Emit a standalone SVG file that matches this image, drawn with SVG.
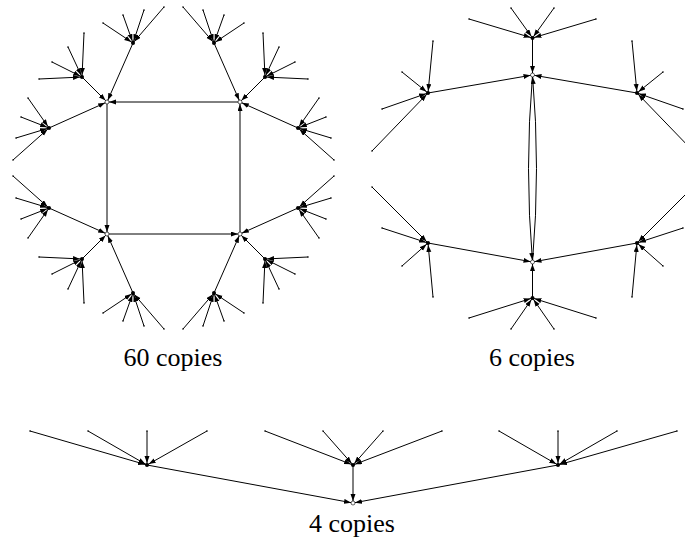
<svg xmlns="http://www.w3.org/2000/svg" width="685" height="554" viewBox="0 0 685 554">
<style>
.e{stroke:#000;stroke-width:1;fill:none;marker-end:url(#a)}
.lf{fill:#000}
.hb{fill:#000}
.ct{fill:#fff;stroke:#000;stroke-width:0.6}
</style>
<defs>
<marker id="a" markerWidth="10" markerHeight="6" refX="9" refY="2.5" orient="auto" markerUnits="userSpaceOnUse">
<path d="M0,0 L7,2.5 L0,5 z" fill="#000"/>
</marker>
</defs>
<rect width="685" height="554" fill="#fff"/>
<g id="connectors">
<line class="e" x1="240" y1="102" x2="107" y2="102"/>
<line class="e" x1="107" y1="102" x2="107" y2="234"/>
<line class="e" x1="107" y1="234" x2="240" y2="234"/>
<line class="e" x1="240" y1="234" x2="240" y2="102"/>
<line class="e" x1="133" y1="43" x2="107" y2="102"/>
<line class="e" x1="82" y1="77" x2="107" y2="102"/>
<line class="e" x1="49" y1="128" x2="107" y2="102"/>
<line class="e" x1="214" y1="43" x2="240" y2="102"/>
<line class="e" x1="265" y1="77" x2="240" y2="102"/>
<line class="e" x1="298" y1="128" x2="240" y2="102"/>
<line class="e" x1="133" y1="293" x2="107" y2="234"/>
<line class="e" x1="82" y1="259" x2="107" y2="234"/>
<line class="e" x1="49" y1="208" x2="107" y2="234"/>
<line class="e" x1="214" y1="293" x2="240" y2="234"/>
<line class="e" x1="265" y1="259" x2="240" y2="234"/>
<line class="e" x1="298" y1="208" x2="240" y2="234"/>
<line class="e" x1="103" y1="23" x2="133" y2="43"/>
<line class="e" x1="123" y1="15" x2="133" y2="43"/>
<line class="e" x1="144" y1="10" x2="133" y2="43"/>
<line class="e" x1="164" y1="7" x2="133" y2="43"/>
<line class="e" x1="84" y1="33" x2="82" y2="77"/>
<line class="e" x1="68" y1="47" x2="82" y2="77"/>
<line class="e" x1="52" y1="62" x2="82" y2="77"/>
<line class="e" x1="39" y1="79" x2="82" y2="77"/>
<line class="e" x1="28" y1="98" x2="49" y2="128"/>
<line class="e" x1="21" y1="117" x2="49" y2="128"/>
<line class="e" x1="16" y1="138" x2="49" y2="128"/>
<line class="e" x1="13" y1="160" x2="49" y2="128"/>
<line class="e" x1="244" y1="23" x2="214" y2="43"/>
<line class="e" x1="224" y1="15" x2="214" y2="43"/>
<line class="e" x1="203" y1="10" x2="214" y2="43"/>
<line class="e" x1="183" y1="7" x2="214" y2="43"/>
<line class="e" x1="263" y1="33" x2="265" y2="77"/>
<line class="e" x1="279" y1="47" x2="265" y2="77"/>
<line class="e" x1="295" y1="62" x2="265" y2="77"/>
<line class="e" x1="308" y1="79" x2="265" y2="77"/>
<line class="e" x1="319" y1="98" x2="298" y2="128"/>
<line class="e" x1="326" y1="117" x2="298" y2="128"/>
<line class="e" x1="331" y1="138" x2="298" y2="128"/>
<line class="e" x1="334" y1="160" x2="298" y2="128"/>
<line class="e" x1="103" y1="313" x2="133" y2="293"/>
<line class="e" x1="123" y1="321" x2="133" y2="293"/>
<line class="e" x1="144" y1="326" x2="133" y2="293"/>
<line class="e" x1="164" y1="329" x2="133" y2="293"/>
<line class="e" x1="84" y1="303" x2="82" y2="259"/>
<line class="e" x1="68" y1="289" x2="82" y2="259"/>
<line class="e" x1="52" y1="274" x2="82" y2="259"/>
<line class="e" x1="39" y1="257" x2="82" y2="259"/>
<line class="e" x1="28" y1="238" x2="49" y2="208"/>
<line class="e" x1="21" y1="219" x2="49" y2="208"/>
<line class="e" x1="16" y1="198" x2="49" y2="208"/>
<line class="e" x1="13" y1="176" x2="49" y2="208"/>
<line class="e" x1="244" y1="313" x2="214" y2="293"/>
<line class="e" x1="224" y1="321" x2="214" y2="293"/>
<line class="e" x1="203" y1="326" x2="214" y2="293"/>
<line class="e" x1="183" y1="329" x2="214" y2="293"/>
<line class="e" x1="263" y1="303" x2="265" y2="259"/>
<line class="e" x1="279" y1="289" x2="265" y2="259"/>
<line class="e" x1="295" y1="274" x2="265" y2="259"/>
<line class="e" x1="308" y1="257" x2="265" y2="259"/>
<line class="e" x1="319" y1="238" x2="298" y2="208"/>
<line class="e" x1="326" y1="219" x2="298" y2="208"/>
<line class="e" x1="331" y1="198" x2="298" y2="208"/>
<line class="e" x1="334" y1="176" x2="298" y2="208"/>
<path class="e" d="M532.5,75 Q524.5,168.5 532.5,262"/>
<path class="e" d="M532.5,262 Q540.5,168.5 532.5,75"/>
<line class="e" x1="532.5" y1="38" x2="532.5" y2="75"/>
<line class="e" x1="532.5" y1="298" x2="532.5" y2="262"/>
<line class="e" x1="428" y1="93" x2="532.5" y2="75"/>
<line class="e" x1="637" y1="93" x2="532.5" y2="75"/>
<line class="e" x1="428" y1="243" x2="532.5" y2="262"/>
<line class="e" x1="637" y1="243" x2="532.5" y2="262"/>
<line class="e" x1="511" y1="8" x2="532.5" y2="38"/>
<line class="e" x1="469" y1="19" x2="532.5" y2="38"/>
<line class="e" x1="554" y1="8" x2="532.5" y2="38"/>
<line class="e" x1="596" y1="19" x2="532.5" y2="38"/>
<line class="e" x1="511" y1="329" x2="532.5" y2="298"/>
<line class="e" x1="469" y1="318" x2="532.5" y2="298"/>
<line class="e" x1="554" y1="329" x2="532.5" y2="298"/>
<line class="e" x1="596" y1="318" x2="532.5" y2="298"/>
<line class="e" x1="433" y1="41" x2="428" y2="93"/>
<line class="e" x1="402" y1="72" x2="428" y2="93"/>
<line class="e" x1="382" y1="109" x2="428" y2="93"/>
<line class="e" x1="372" y1="151" x2="428" y2="93"/>
<line class="e" x1="632" y1="41" x2="637" y2="93"/>
<line class="e" x1="663" y1="72" x2="637" y2="93"/>
<line class="e" x1="683" y1="109" x2="637" y2="93"/>
<line class="e" x1="693" y1="151" x2="637" y2="93"/>
<line class="e" x1="433" y1="297" x2="428" y2="243"/>
<line class="e" x1="402" y1="266" x2="428" y2="243"/>
<line class="e" x1="382" y1="228" x2="428" y2="243"/>
<line class="e" x1="372" y1="187" x2="428" y2="243"/>
<line class="e" x1="632" y1="297" x2="637" y2="243"/>
<line class="e" x1="663" y1="266" x2="637" y2="243"/>
<line class="e" x1="683" y1="228" x2="637" y2="243"/>
<line class="e" x1="693" y1="187" x2="637" y2="243"/>
<line class="e" x1="147" y1="465" x2="353" y2="503"/>
<line class="e" x1="353" y1="465" x2="353" y2="503"/>
<line class="e" x1="558" y1="465" x2="353" y2="503"/>
<line class="e" x1="30" y1="431" x2="147" y2="465"/>
<line class="e" x1="88" y1="431" x2="147" y2="465"/>
<line class="e" x1="147" y1="431" x2="147" y2="465"/>
<line class="e" x1="207" y1="431" x2="147" y2="465"/>
<line class="e" x1="265" y1="431" x2="353" y2="465"/>
<line class="e" x1="323" y1="431" x2="353" y2="465"/>
<line class="e" x1="383" y1="431" x2="353" y2="465"/>
<line class="e" x1="442" y1="431" x2="353" y2="465"/>
<line class="e" x1="499" y1="431" x2="558" y2="465"/>
<line class="e" x1="558" y1="431" x2="558" y2="465"/>
<line class="e" x1="617" y1="431" x2="558" y2="465"/>
<line class="e" x1="677" y1="431" x2="558" y2="465"/>
</g>
<g id="g1c1"><circle class="ct" cx="107" cy="102" r="2"/></g>
<g id="g1c2"><circle class="ct" cx="240" cy="102" r="2"/></g>
<g id="g1c3"><circle class="ct" cx="107" cy="234" r="2"/></g>
<g id="g1c4"><circle class="ct" cx="240" cy="234" r="2"/></g>
<g id="g1h1"><circle class="hb" cx="133" cy="43" r="2"/></g>
<g id="g1h2"><circle class="hb" cx="82" cy="77" r="2"/></g>
<g id="g1h3"><circle class="hb" cx="49" cy="128" r="2"/></g>
<g id="g1h4"><circle class="hb" cx="214" cy="43" r="2"/></g>
<g id="g1h5"><circle class="hb" cx="265" cy="77" r="2"/></g>
<g id="g1h6"><circle class="hb" cx="298" cy="128" r="2"/></g>
<g id="g1h7"><circle class="hb" cx="133" cy="293" r="2"/></g>
<g id="g1h8"><circle class="hb" cx="82" cy="259" r="2"/></g>
<g id="g1h9"><circle class="hb" cx="49" cy="208" r="2"/></g>
<g id="g1h10"><circle class="hb" cx="214" cy="293" r="2"/></g>
<g id="g1h11"><circle class="hb" cx="265" cy="259" r="2"/></g>
<g id="g1h12"><circle class="hb" cx="298" cy="208" r="2"/></g>
<g id="g1l1"><circle class="lf" cx="103" cy="23" r="0.8"/></g>
<g id="g1l2"><circle class="lf" cx="123" cy="15" r="0.8"/></g>
<g id="g1l3"><circle class="lf" cx="144" cy="10" r="0.8"/></g>
<g id="g1l4"><circle class="lf" cx="164" cy="7" r="0.8"/></g>
<g id="g1l5"><circle class="lf" cx="84" cy="33" r="0.8"/></g>
<g id="g1l6"><circle class="lf" cx="68" cy="47" r="0.8"/></g>
<g id="g1l7"><circle class="lf" cx="52" cy="62" r="0.8"/></g>
<g id="g1l8"><circle class="lf" cx="39" cy="79" r="0.8"/></g>
<g id="g1l9"><circle class="lf" cx="28" cy="98" r="0.8"/></g>
<g id="g1l10"><circle class="lf" cx="21" cy="117" r="0.8"/></g>
<g id="g1l11"><circle class="lf" cx="16" cy="138" r="0.8"/></g>
<g id="g1l12"><circle class="lf" cx="13" cy="160" r="0.8"/></g>
<g id="g1l13"><circle class="lf" cx="244" cy="23" r="0.8"/></g>
<g id="g1l14"><circle class="lf" cx="224" cy="15" r="0.8"/></g>
<g id="g1l15"><circle class="lf" cx="203" cy="10" r="0.8"/></g>
<g id="g1l16"><circle class="lf" cx="183" cy="7" r="0.8"/></g>
<g id="g1l17"><circle class="lf" cx="263" cy="33" r="0.8"/></g>
<g id="g1l18"><circle class="lf" cx="279" cy="47" r="0.8"/></g>
<g id="g1l19"><circle class="lf" cx="295" cy="62" r="0.8"/></g>
<g id="g1l20"><circle class="lf" cx="308" cy="79" r="0.8"/></g>
<g id="g1l21"><circle class="lf" cx="319" cy="98" r="0.8"/></g>
<g id="g1l22"><circle class="lf" cx="326" cy="117" r="0.8"/></g>
<g id="g1l23"><circle class="lf" cx="331" cy="138" r="0.8"/></g>
<g id="g1l24"><circle class="lf" cx="334" cy="160" r="0.8"/></g>
<g id="g1l25"><circle class="lf" cx="103" cy="313" r="0.8"/></g>
<g id="g1l26"><circle class="lf" cx="123" cy="321" r="0.8"/></g>
<g id="g1l27"><circle class="lf" cx="144" cy="326" r="0.8"/></g>
<g id="g1l28"><circle class="lf" cx="164" cy="329" r="0.8"/></g>
<g id="g1l29"><circle class="lf" cx="84" cy="303" r="0.8"/></g>
<g id="g1l30"><circle class="lf" cx="68" cy="289" r="0.8"/></g>
<g id="g1l31"><circle class="lf" cx="52" cy="274" r="0.8"/></g>
<g id="g1l32"><circle class="lf" cx="39" cy="257" r="0.8"/></g>
<g id="g1l33"><circle class="lf" cx="28" cy="238" r="0.8"/></g>
<g id="g1l34"><circle class="lf" cx="21" cy="219" r="0.8"/></g>
<g id="g1l35"><circle class="lf" cx="16" cy="198" r="0.8"/></g>
<g id="g1l36"><circle class="lf" cx="13" cy="176" r="0.8"/></g>
<g id="g1l37"><circle class="lf" cx="244" cy="313" r="0.8"/></g>
<g id="g1l38"><circle class="lf" cx="224" cy="321" r="0.8"/></g>
<g id="g1l39"><circle class="lf" cx="203" cy="326" r="0.8"/></g>
<g id="g1l40"><circle class="lf" cx="183" cy="329" r="0.8"/></g>
<g id="g1l41"><circle class="lf" cx="263" cy="303" r="0.8"/></g>
<g id="g1l42"><circle class="lf" cx="279" cy="289" r="0.8"/></g>
<g id="g1l43"><circle class="lf" cx="295" cy="274" r="0.8"/></g>
<g id="g1l44"><circle class="lf" cx="308" cy="257" r="0.8"/></g>
<g id="g1l45"><circle class="lf" cx="319" cy="238" r="0.8"/></g>
<g id="g1l46"><circle class="lf" cx="326" cy="219" r="0.8"/></g>
<g id="g1l47"><circle class="lf" cx="331" cy="198" r="0.8"/></g>
<g id="g1l48"><circle class="lf" cx="334" cy="176" r="0.8"/></g>
<g id="g2c1"><circle class="ct" cx="532.5" cy="75" r="2"/></g>
<g id="g2c2"><circle class="ct" cx="532.5" cy="262" r="2"/></g>
<g id="g2h1"><circle class="hb" cx="532.5" cy="38" r="2"/></g>
<g id="g2h2"><circle class="hb" cx="532.5" cy="298" r="2"/></g>
<g id="g2h3"><circle class="hb" cx="428" cy="93" r="2"/></g>
<g id="g2h4"><circle class="hb" cx="637" cy="93" r="2"/></g>
<g id="g2h5"><circle class="hb" cx="428" cy="243" r="2"/></g>
<g id="g2h6"><circle class="hb" cx="637" cy="243" r="2"/></g>
<g id="g2l1"><circle class="lf" cx="511" cy="8" r="0.8"/></g>
<g id="g2l2"><circle class="lf" cx="469" cy="19" r="0.8"/></g>
<g id="g2l3"><circle class="lf" cx="554" cy="8" r="0.8"/></g>
<g id="g2l4"><circle class="lf" cx="596" cy="19" r="0.8"/></g>
<g id="g2l5"><circle class="lf" cx="511" cy="329" r="0.8"/></g>
<g id="g2l6"><circle class="lf" cx="469" cy="318" r="0.8"/></g>
<g id="g2l7"><circle class="lf" cx="554" cy="329" r="0.8"/></g>
<g id="g2l8"><circle class="lf" cx="596" cy="318" r="0.8"/></g>
<g id="g2l9"><circle class="lf" cx="433" cy="41" r="0.8"/></g>
<g id="g2l10"><circle class="lf" cx="402" cy="72" r="0.8"/></g>
<g id="g2l11"><circle class="lf" cx="382" cy="109" r="0.8"/></g>
<g id="g2l12"><circle class="lf" cx="372" cy="151" r="0.8"/></g>
<g id="g2l13"><circle class="lf" cx="632" cy="41" r="0.8"/></g>
<g id="g2l14"><circle class="lf" cx="663" cy="72" r="0.8"/></g>
<g id="g2l15"><circle class="lf" cx="683" cy="109" r="0.8"/></g>
<g id="g2l16"><circle class="lf" cx="693" cy="151" r="0.8"/></g>
<g id="g2l17"><circle class="lf" cx="433" cy="297" r="0.8"/></g>
<g id="g2l18"><circle class="lf" cx="402" cy="266" r="0.8"/></g>
<g id="g2l19"><circle class="lf" cx="382" cy="228" r="0.8"/></g>
<g id="g2l20"><circle class="lf" cx="372" cy="187" r="0.8"/></g>
<g id="g2l21"><circle class="lf" cx="632" cy="297" r="0.8"/></g>
<g id="g2l22"><circle class="lf" cx="663" cy="266" r="0.8"/></g>
<g id="g2l23"><circle class="lf" cx="683" cy="228" r="0.8"/></g>
<g id="g2l24"><circle class="lf" cx="693" cy="187" r="0.8"/></g>
<g id="g3c1"><circle class="ct" cx="353" cy="503" r="2"/></g>
<g id="g3h1"><circle class="hb" cx="147" cy="465" r="2"/></g>
<g id="g3h2"><circle class="hb" cx="353" cy="465" r="2"/></g>
<g id="g3h3"><circle class="hb" cx="558" cy="465" r="2"/></g>
<g id="g3l1"><circle class="lf" cx="30" cy="431" r="0.8"/></g>
<g id="g3l2"><circle class="lf" cx="88" cy="431" r="0.8"/></g>
<g id="g3l3"><circle class="lf" cx="147" cy="431" r="0.8"/></g>
<g id="g3l4"><circle class="lf" cx="207" cy="431" r="0.8"/></g>
<g id="g3l5"><circle class="lf" cx="265" cy="431" r="0.8"/></g>
<g id="g3l6"><circle class="lf" cx="323" cy="431" r="0.8"/></g>
<g id="g3l7"><circle class="lf" cx="383" cy="431" r="0.8"/></g>
<g id="g3l8"><circle class="lf" cx="442" cy="431" r="0.8"/></g>
<g id="g3l9"><circle class="lf" cx="499" cy="431" r="0.8"/></g>
<g id="g3l10"><circle class="lf" cx="558" cy="431" r="0.8"/></g>
<g id="g3l11"><circle class="lf" cx="617" cy="431" r="0.8"/></g>
<g id="g3l12"><circle class="lf" cx="677" cy="431" r="0.8"/></g>
<g id="labels" font-family="Liberation Serif, Times New Roman, serif" font-size="26" fill="#000" text-anchor="middle">
<text x="173" y="366">60 copies</text>
<text x="532" y="366">6 copies</text>
<text x="352" y="532">4 copies</text>
</g>
</svg>
